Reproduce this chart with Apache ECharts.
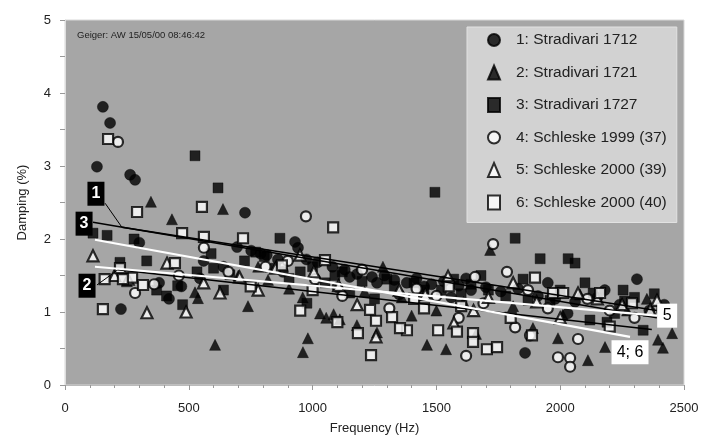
<!DOCTYPE html>
<html><head><meta charset="utf-8">
<script src="https://cdn.jsdelivr.net/npm/echarts@6/dist/echarts.min.js"></script>
<style>html,body{margin:0;padding:0;background:#fff}#c{width:710px;height:437px}</style>
</head><body><div id="c"></div>
<script>
var seriesNames = ['1: Stradivari 1712','2: Stradivari 1721','3: Stradivari 1727','4: Schleske 1999 (37)','5: Schleske 2000 (39)','6: Schleske 2000 (40)'];
var xTicks = [0,500,1000,1500,2000,2500];
var yTicks = [0,1,2,3,4,5];

var s1 = [[129,2.99],[153,3.81],[182,3.59],[263,2.88],[283,2.81],[226,1.04],[727,2.36],[695,1.89],[752,1.84],[790,1.80],[815,1.78],[929,1.96],[941,1.88],[975,1.72],[1020,1.68],[1080,1.62],[1130,1.58],[1180,1.52],[1240,1.48],[1290,1.50],[1330,1.44],[1380,1.40],[1420,1.46],[1480,1.38],[1530,1.42],[1590,1.36],[1640,1.30],[1700,1.34],[1760,1.28],[1858,0.44],[1910,1.22],[1980,1.18],[2060,1.14],[2150,1.20],[2310,1.45],[2240,1.10],[2360,1.02],[470,1.35],[420,1.18],[880,1.55],[1100,1.34],[1350,1.24],[1560,1.20],[2030,0.98],[545,1.46],[640,1.62],[380,1.40],[300,1.95],[560,1.70],[860,1.72],[1150,1.48],[1260,1.40],[1450,1.35],[1620,1.46],[1830,1.32],[1950,1.40],[2180,1.30],[2420,1.10]];
var s2 = [[347,2.51],[638,2.41],[432,2.27],[739,1.08],[606,0.55],[961,0.45],[981,0.64],[525,1.27],[537,1.19],[1030,0.98],[1055,0.92],[1085,0.97],[1110,0.90],[1179,0.82],[1284,1.62],[1462,0.55],[1539,0.49],[1717,1.85],[1991,0.64],[2112,0.34],[2181,0.52],[2452,0.71],[2415,0.51],[2395,0.62],[700,1.50],[820,1.44],[905,1.32],[1210,1.28],[1360,1.20],[1610,1.14],[1810,1.08],[2270,1.02],[250,1.42],[1890,0.78],[2010,0.96],[1500,1.02],[1260,0.72],[1400,0.95],[2350,1.18],[2080,1.24],[1660,0.70],[960,1.20],[780,1.62]];
var s3 = [[525,3.14],[618,2.70],[1494,2.64],[1818,2.01],[1919,1.73],[2032,1.73],[2060,1.67],[113,2.08],[170,2.05],[279,2.00],[222,1.68],[533,1.55],[666,1.51],[868,2.01],[977,1.12],[2254,1.30],[2335,0.75],[2120,0.89],[2189,0.86],[1870,1.16],[1959,1.16],[2133,1.26],[370,1.30],[410,1.22],[455,1.36],[475,1.10],[770,1.82],[805,1.76],[1000,1.62],[1090,1.50],[1200,1.42],[1300,1.45],[1410,1.40],[1570,1.45],[1640,1.38],[1710,1.30],[2410,1.05],[905,1.46],[1150,1.26],[1250,1.18],[1450,1.30],[1780,1.22],[2000,1.30],[2300,1.20],[2220,0.98],[590,1.80],[725,1.70],[1050,1.40],[330,1.70],[600,1.60],[850,1.60],[950,1.55],[1120,1.55],[1330,1.35],[1520,1.30],[1600,1.25],[1680,1.50],[1850,1.45],[2100,1.40],[2380,1.25],[640,1.30],[2260,1.15]];
var s4 = [[214,3.33],[973,2.31],[1729,1.93],[1656,1.48],[1785,1.55],[561,1.88],[283,1.26],[1870,1.30],[1818,0.79],[1878,0.68],[2072,0.63],[1991,0.38],[2040,0.37],[2040,0.25],[1620,0.40],[1200,1.58],[1420,1.32],[810,1.62],[1010,1.45],[1500,1.22],[2200,1.02],[660,1.55],[1120,1.22],[1310,1.05],[1590,0.92],[1690,1.12],[2110,1.18],[900,1.70],[2300,0.92],[460,1.50],[360,1.38],[1950,1.05]];
var s5 = [[113,1.77],[949,1.78],[626,1.26],[331,0.99],[489,1.00],[412,1.67],[1256,0.66],[1547,1.49],[1571,0.85],[2072,1.26],[2391,1.16],[2363,1.03],[200,1.50],[255,1.45],[705,1.48],[850,1.60],[1105,1.36],[1350,1.30],[1455,1.24],[1710,1.20],[1905,1.14],[2250,1.10],[1005,1.55],[1810,1.40],[2150,1.18],[1180,1.10],[1650,1.02],[2000,0.92],[560,1.40],[780,1.30]];
var s6 = [[174,3.37],[291,2.37],[553,2.44],[473,2.08],[561,2.03],[719,2.01],[1083,2.16],[876,1.64],[1050,1.71],[222,1.60],[444,1.67],[271,1.47],[315,1.37],[153,1.04],[1232,1.03],[1256,0.88],[1321,0.93],[1183,0.71],[1381,0.75],[1353,0.78],[1236,0.41],[1507,0.75],[1583,0.73],[1648,0.71],[1648,0.59],[1704,0.49],[1745,0.52],[1898,1.47],[1971,1.26],[2012,1.26],[2161,1.26],[2290,1.12],[1886,0.68],[160,1.45],[234,1.45],[1000,1.30],[1410,1.18],[1600,1.08],[1800,0.92],[1100,0.86],[950,1.02],[1450,1.05],[2200,0.80],[1550,1.35],[750,1.35]];

// regression lines (endpoints)
var reg1 = [[230,2.16],[2390,1.02]];
var reg2 = [[214,1.58],[2370,0.76]];
var reg3 = [[113,2.23],[2390,0.92]];
var reg5 = [[121,1.62],[2391,0.95]];
var reg46 = [[121,1.99],[2282,0.66]];
var leader1 = [[162,2.49],[230,2.16]];
var leader2 = [[129,1.37],[214,1.58]];
var tagText = ['1','3','2','5','4; 6'];
var tagCoord = [[125,2.62],[77,2.21],[89,1.36],[2432,0.95],[2282,0.45]];

var symbols = ['circle','triangle','rect','circle','triangle','rect'];
var sizes = [11,11,10,10,11,10];
var data = [s1,s2,s3,s4,s5,s6];

var series = [];
for (var i=0;i<6;i++){
  var open = i>=3;
  series.push({
    name: seriesNames[i], type:'scatter', data:data[i], symbol:symbols[i], symbolSize:sizes[i], z:2,
    itemStyle: open ? {color:'#fff', borderColor:'#000', borderWidth:2.2} : {color:'#000', borderColor:'#000', borderWidth:0.5},
    emphasis:{disabled:true}
  });
}
function lineS(d,color,w,z){
  return {type:'line', data:d, symbol:'none', silent:true, z:z, lineStyle:{color:color,width:w}, animation:false};
}
series.push(lineS(reg1,'#000',1.5,5));
series.push(lineS(reg2,'#000',1.5,5));
series.push(lineS(reg3,'#000',1.5,5));
series.push(lineS(leader1,'#000',1,5));
series.push(lineS(leader2,'#000',1,5));
series.push(lineS(reg5,'#fff',2.2,6));
series.push(lineS(reg46,'#fff',2.2,6));
var mp = [];
for (var k=0;k<tagText.length;k++){
  var dark = k<3;
  mp.push({coord:tagCoord[k], symbol:'rect', symbolSize:[dark?17:(tagText[k].length>1?37:20), 24],
    itemStyle:{color: dark?'#000':'#fff'},
    label:{show:true, position:'inside', formatter:tagText[k], color: dark?'#fff':'#000', fontSize:16, fontWeight: dark?'bold':'normal', fontFamily:'Liberation Sans'}});
}
series.push({type:'scatter', data:[], silent:true, z:10, markPoint:{data:mp, animation:false, silent:true}});

var chart = echarts.init(document.getElementById('c'));
chart.setOption({
  animation:false,
  backgroundColor:'#fff',
  textStyle:{fontFamily:'Liberation Sans'},
  title:{text:'Geiger: AW 15/05/00 08:46:42', left:72, top:25, textStyle:{fontSize:9.5, fontWeight:'normal', color:'#222'}},
  grid:{left:65, right:26, top:20, bottom:52, containLabel:false, outerBoundsMode:'none', show:true, backgroundColor:'#a6a6a6', borderColor:'#d8d8d8', borderWidth:1},
  legend:{data:seriesNames, orient:'vertical', left:467, top:27, itemWidth:12, itemHeight:14, itemGap:16.5,
    padding:[5,10,12,20], backgroundColor:'#d2d2d2', borderColor:'#e2e2e2', borderWidth:1,
    textStyle:{fontSize:15.5, color:'#222', padding:[0,0,0,11]}, selectedMode:false},
  xAxis:{type:'value', min:0, max:2500, interval:500, name:'Frequency (Hz)', nameLocation:'middle', nameGap:37,
    nameTextStyle:{fontSize:13, color:'#222'},
    axisLine:{show:true, lineStyle:{color:'#bbb'}}, axisTick:{show:true, length:5, lineStyle:{color:'#999'}},
    minorTick:{show:true, splitNumber:5, length:3, lineStyle:{color:'#999'}},
    splitLine:{show:false}, axisLabel:{fontSize:13, color:'#222', margin:17, formatter:function(v){return String(v);}}},
  yAxis:{type:'value', min:0, max:5, interval:1, name:'Damping (%)', nameLocation:'middle', nameGap:36,
    nameTextStyle:{fontSize:13, color:'#222'},
    axisLine:{show:true, lineStyle:{color:'#ddd'}}, axisTick:{show:true, length:5, lineStyle:{color:'#999'}},
    minorTick:{show:true, splitNumber:2, length:5, lineStyle:{color:'#999'}},
    splitLine:{show:false}, axisLabel:{fontSize:13, color:'#222', margin:14}},
  series:series
});
</script></body></html>
